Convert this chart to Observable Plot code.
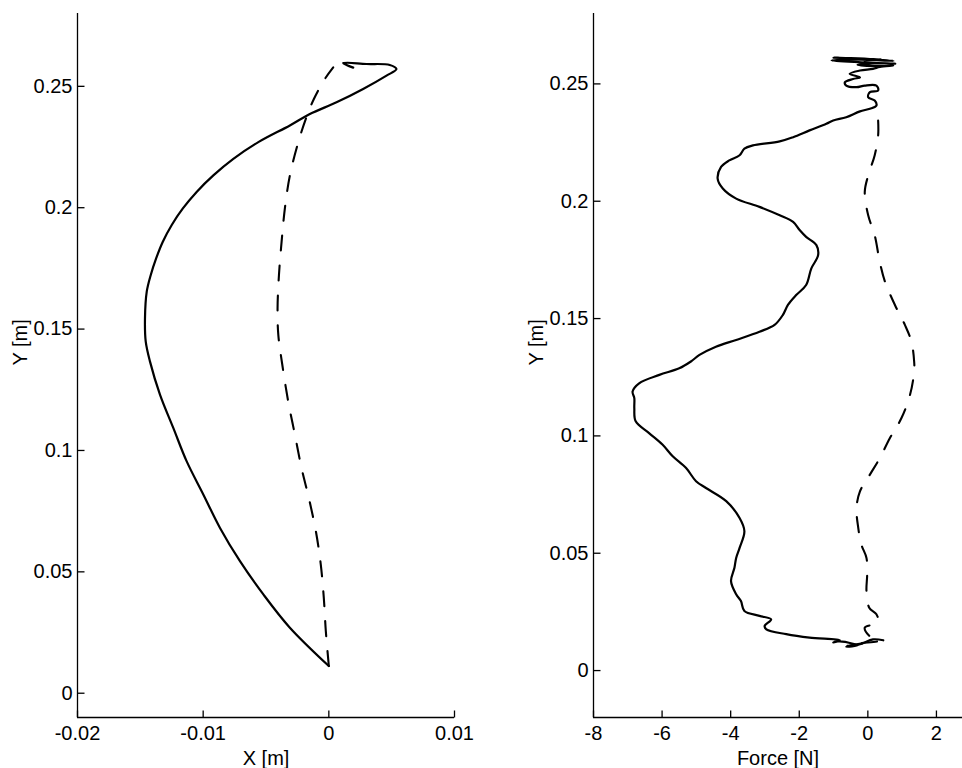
<!DOCTYPE html>
<html>
<head>
<meta charset="utf-8">
<script src="https://cdn.jsdelivr.net/npm/d3@7"></script>
<script src="https://cdn.jsdelivr.net/npm/@observablehq/plot@0.6"></script>
<style>
  html, body { margin: 0; padding: 0; background: #fff; }
  #wrap { position: relative; width: 962px; height: 768px; overflow: hidden; font-family: "Liberation Sans", Arial, sans-serif; }
  .panel { position: absolute; top: 0; }
  .tag { position: absolute; font-size: 27px; line-height: 27px; font-style: italic; color: #000; }
</style>
</head>
<body>
<div id="wrap">
  <div class="tag" style="left:11px; top:9px;">A</div>
  <div class="tag" style="left:527px; top:9px;">B</div>
  <div id="pa" class="panel" style="left:0px;"></div>
  <div id="pb" class="panel" style="left:480px;"></div>
</div>
<script>
// ---------- Panel A: hand path X [m] vs Y [m] ----------
const aSolidX = [0.0000, -0.0031, -0.00521, -0.00707, -0.00866, -0.00998, -0.01131, -0.01237, -0.01343, -0.01423, -0.01457, -0.01463, -0.01449, -0.01417, -0.01375, -0.01322, -0.0125, -0.01163, -0.01052, -0.00919, -0.0076, -0.00561, -0.0031, -0.00151, 0.00061, 0.00273, 0.00459, 0.00538, 0.00485, 0.0030, 0.00114, 0.00141, 0.00194];
const aSolidY = [0.0112, 0.0270, 0.0407, 0.0544, 0.0681, 0.0818, 0.0955, 0.1092, 0.1229, 0.1366, 0.1448, 0.1544, 0.1654, 0.1723, 0.1790, 0.1859, 0.1929, 0.1996, 0.2065, 0.2133, 0.2201, 0.2270, 0.2339, 0.2386, 0.2434, 0.2489, 0.2544, 0.2571, 0.2588, 0.2592, 0.2596, 0.2588, 0.2577];
const aDashX = [0.0000, -0.00024, -0.0004, -0.00064, -0.00103, -0.00159, -0.00217, -0.0027, -0.00323, -0.0037, -0.00402, -0.00408, -0.00397, -0.00376, -0.0035, -0.0031, -0.00243, -0.00183, -0.00119, -0.00032, 0.00035];
const aDashY = [0.0112, 0.0256, 0.0393, 0.0530, 0.0667, 0.0804, 0.0927, 0.1065, 0.1201, 0.1352, 0.1476, 0.1585, 0.1722, 0.1859, 0.1996, 0.2133, 0.2270, 0.2366, 0.2448, 0.2530, 0.2578];
const aXTicks = [-0.02, -0.01, 0, 0.01];
const aYTicks = [0, 0.05, 0.1, 0.15, 0.2, 0.25];
const aXDomain = [-0.02, 0.01];
const aYDomain = [-0.01, 0.28];

// ---------- Panel B: Force [N] vs Y [m] ----------
const bSolidF = [0.45, 0.15, -0.23, -0.63, -0.30, -0.90, -1.01, -0.82, -1.70, -2.38, -2.96, -3.01, -2.82, -3.16, -3.60, -3.70, -3.84, -3.99, -3.89, -3.84, -3.74, -3.60, -3.74, -4.13, -4.72, -5.01, -5.30, -5.69, -5.99, -6.38, -6.77, -6.81, -6.81, -6.86, -6.67, -6.08, -5.50, -5.16, -4.91, -4.43, -3.84, -3.16, -2.72, -2.48, -2.33, -2.09, -1.80, -1.65, -1.45, -1.50, -1.80, -1.99, -2.18, -2.57, -3.16, -3.84, -4.23, -4.38, -4.28, -4.04, -3.74, -3.60, -3.35, -2.57, -2.18, -1.70, -1.21, -1.01, -0.63, -0.23, 0.06, 0.25, 0.20, 0.01, 0.06, 0.30, 0.25, -0.09, -0.33, -0.63, -0.67, -0.43, -0.23, -0.53, -0.23, 0.15, 0.35, 0.74, 0.20, -0.30, 0.30, 0.80, -0.20, -1.06, -0.60, 0.10, 0.75, 0.20, -0.50, -1.00, -0.40, 0.40, -0.10];
const bSolidY = [0.0129, 0.0133, 0.0112, 0.0101, 0.0108, 0.0125, 0.0119, 0.0129, 0.0140, 0.0155, 0.0176, 0.0190, 0.0218, 0.0233, 0.0254, 0.0296, 0.0325, 0.0381, 0.0438, 0.0480, 0.0523, 0.0594, 0.0650, 0.0722, 0.0778, 0.0807, 0.0863, 0.0913, 0.0963, 0.1012, 0.1062, 0.1118, 0.1161, 0.1189, 0.1224, 0.1260, 0.1288, 0.1317, 0.1345, 0.1380, 0.1409, 0.1444, 0.1473, 0.1515, 0.1558, 0.1600, 0.1643, 0.1713, 0.1770, 0.1813, 0.1848, 0.1877, 0.1912, 0.1940, 0.1976, 0.2011, 0.2054, 0.2096, 0.2146, 0.2174, 0.2196, 0.2224, 0.2238, 0.2255, 0.2273, 0.2302, 0.2330, 0.2344, 0.2358, 0.2383, 0.2394, 0.2408, 0.2429, 0.2443, 0.2465, 0.2472, 0.2493, 0.2493, 0.2486, 0.2493, 0.2507, 0.2521, 0.2528, 0.2543, 0.2557, 0.2564, 0.2572, 0.2578, 0.2576, 0.2582, 0.2588, 0.2586, 0.2592, 0.2600, 0.2604, 0.2602, 0.2598, 0.2605, 0.2610, 0.2612, 0.2608, 0.2604, 0.2600];
const bDashF = [0.30, 0.30, 0.20, 0.01, -0.09, 0.01, 0.20, 0.35, 0.50, 0.79, 1.08, 1.27, 1.35, 1.35, 1.23, 0.98, 0.64, 0.35, 0.06, -0.23, -0.33, -0.28, -0.19, -0.04, -0.02, -0.04, 0.04, 0.25, 0.30, -0.09, 0.10, 0.35, -0.30, -0.60, 0.00];
const bDashY = [0.2344, 0.2280, 0.2196, 0.2110, 0.2040, 0.1940, 0.1855, 0.1740, 0.1657, 0.1558, 0.1473, 0.1402, 0.1317, 0.1274, 0.1175, 0.1076, 0.0990, 0.0906, 0.0835, 0.0764, 0.0693, 0.0608, 0.0537, 0.0480, 0.0410, 0.0339, 0.0268, 0.0240, 0.0204, 0.0183, 0.0140, 0.0128, 0.0115, 0.0105, 0.0120];
const bXTicks = [-8, -6, -4, -2, 0, 2];
const bYTicks = [0, 0.05, 0.1, 0.15, 0.2, 0.25];
const bXDomain = [-8, 2.76];
const bYDomain = [-0.02, 0.28];

const zip = (xs, ys) => xs.map((x, i) => ({x, y: ys[i]}));
const fmt = d => `${d}`;
const FONT = "'Liberation Sans', Arial, sans-serif";
const HEIGHT = 768, MT = 13, MB = 51, TICK_PX = 7;

function panel({width, marginLeft, marginRight, xDomain, yDomain, xTicks, yTicks, solid, dash, solidCurve, xLabel}) {
  // inward tick length (TICK_PX pixels) expressed in scale units
  const kx = (xDomain[1] - xDomain[0]) * TICK_PX / (width - marginLeft - marginRight);
  const ky = (yDomain[1] - yDomain[0]) * TICK_PX / (HEIGHT - MT - MB);
  const xTickData = xTicks.map(v => ({v, a: yDomain[0], b: yDomain[0] + ky}));
  const yTickData = yTicks.map(v => ({v, a: xDomain[0], b: xDomain[0] + kx}));
  return Plot.plot({
    width, height: HEIGHT,
    marginLeft, marginRight, marginTop: MT, marginBottom: MB,
    style: {fontFamily: FONT, fontSize: "20px", color: "#000", background: "#fff", overflow: "visible"},
    x: {domain: xDomain},
    y: {domain: yDomain},
    marks: [
      Plot.ruleX([xDomain[0]], {stroke: "#000", strokeWidth: 1.3}),
      Plot.ruleY([yDomain[0]], {stroke: "#000", strokeWidth: 1.3}),
      Plot.link(xTickData, {x1: "v", x2: "v", y1: "a", y2: "b", stroke: "#000", strokeWidth: 1.3}),
      Plot.link(yTickData, {y1: "v", y2: "v", x1: "a", x2: "b", stroke: "#000", strokeWidth: 1.3}),
      Plot.axisX({ticks: xTicks, tickSize: 0, tickPadding: 8, tickFormat: fmt, label: null, fill: "#000", fontSize: 20}),
      Plot.axisY({ticks: yTicks, tickSize: 0, tickPadding: 5, tickFormat: fmt, label: null, fill: "#000", fontSize: 20}),
      Plot.line(dash, {x: "x", y: "y", stroke: "#000", strokeWidth: 2.1, strokeDasharray: "15,15", curve: "catmull-rom"}),
      Plot.line(solid, {x: "x", y: "y", stroke: "#000", strokeWidth: 2.2, curve: solidCurve, strokeLinejoin: "round"}),
      Plot.text([xLabel], {text: d => d, frameAnchor: "bottom", dy: 41, fontSize: 20, fill: "#000", lineAnchor: "middle"}),
      Plot.text(["Y [m]"], {text: d => d, frameAnchor: "left", dx: -57, rotate: -90, fontSize: 20, fill: "#000", lineAnchor: "middle"})
    ]
  });
}

document.getElementById("pa").append(panel({
  width: 480, marginLeft: 77, marginRight: 26,
  xDomain: aXDomain, yDomain: aYDomain, xTicks: aXTicks, yTicks: aYTicks,
  solid: zip(aSolidX, aSolidY), dash: zip(aDashX, aDashY), solidCurve: "catmull-rom", xLabel: "X [m]"
}));
document.getElementById("pb").append(panel({
  width: 482, marginLeft: 113, marginRight: 0,
  xDomain: bXDomain, yDomain: bYDomain, xTicks: bXTicks, yTicks: bYTicks,
  solid: zip(bSolidF, bSolidY), dash: zip(bDashF, bDashY), solidCurve: "catmull-rom", xLabel: "Force [N]"
}));
</script>
</body>
</html>
